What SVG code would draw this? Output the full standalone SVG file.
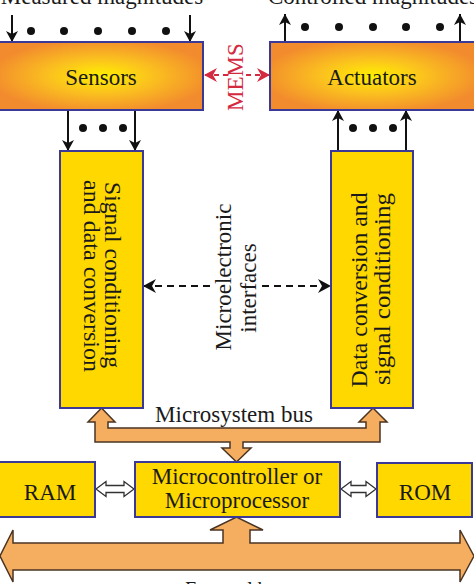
<svg xmlns="http://www.w3.org/2000/svg" width="474" height="584" viewBox="0 0 474 584">
<defs>
<radialGradient id="warm" cx="50%" cy="50%" r="55%">
<stop offset="0" stop-color="#FFF000"/>
<stop offset="0.45" stop-color="#FBC21E"/>
<stop offset="1" stop-color="#F28A2E"/>
</radialGradient>
<marker id="ah" markerUnits="userSpaceOnUse" markerWidth="11" markerHeight="12" refX="11" refY="6" orient="auto">
<path d="M0,0 L11,6 L0,12 L3,6 Z" fill="#111"/>
</marker>
<marker id="bh" markerUnits="userSpaceOnUse" markerWidth="13" markerHeight="14" refX="13" refY="7" orient="auto">
<path d="M0,0 L13,7 L0,14 L4,7 Z" fill="#111"/>
</marker>
<marker id="rh" markerUnits="userSpaceOnUse" markerWidth="13" markerHeight="14" refX="13" refY="7" orient="auto">
<path d="M0,0 L13,7 L0,14 L4,7 Z" fill="#D42A40"/>
</marker>
</defs>
<style>
.t{font-family:"Liberation Serif","Times New Roman",serif;font-size:23px;fill:#1a1a1a}
.box{fill:#FFD800;stroke:#3A3A96;stroke-width:2}
.gbox{fill:url(#warm);stroke:#3A3A96;stroke-width:2}
.bus{fill:#F5AE60;stroke:#4a3423;stroke-width:1.5;stroke-linejoin:miter}
.ar{stroke:#111;stroke-width:2;fill:none;marker-end:url(#ah)}
.dash{stroke:#111;stroke-width:2;fill:none;stroke-dasharray:7,5;marker-end:url(#bh)}
.rdash{stroke:#D42A40;stroke-width:1.8;fill:none;stroke-dasharray:5,4;marker-end:url(#rh)}
.dot{fill:#111}
.wa{fill:#fff;stroke:#333;stroke-width:1.3}
</style>

<text class="t" x="102" y="4" text-anchor="middle">Measured magnitudes</text>
<text class="t" x="373" y="4" text-anchor="middle">Controlled magnitudes</text>

<g id="connectors">
<line class="ar" x1="12" y1="15" x2="12" y2="42"/>
<line class="ar" x1="190" y1="15" x2="190" y2="42"/>
<g class="dot"><circle cx="31" cy="31" r="4"/><circle cx="64" cy="31" r="4"/><circle cx="98" cy="31" r="4"/><circle cx="132" cy="31" r="4"/><circle cx="166" cy="31" r="4"/></g>
<line class="ar" x1="285" y1="42" x2="285" y2="14"/>
<line class="ar" x1="460" y1="42" x2="460" y2="14"/>
<g class="dot"><circle cx="305" cy="27" r="4"/><circle cx="339" cy="27" r="4"/><circle cx="373" cy="27" r="4"/><circle cx="406" cy="27" r="4"/><circle cx="440" cy="27" r="4"/></g>
<line class="ar" x1="68" y1="110" x2="68" y2="151"/>
<line class="ar" x1="135" y1="110" x2="135" y2="151"/>
<g class="dot"><circle cx="83" cy="128" r="4"/><circle cx="103" cy="128" r="4"/><circle cx="123" cy="128" r="4"/></g>
<line class="ar" x1="338" y1="151" x2="338" y2="110"/>
<line class="ar" x1="406" y1="151" x2="406" y2="110"/>
<g class="dot"><circle cx="353" cy="128" r="4"/><circle cx="373" cy="128" r="4"/><circle cx="393" cy="128" r="4"/></g>
<line class="rdash" x1="228" y1="75" x2="204" y2="75"/>
<line class="rdash" x1="246" y1="75" x2="270" y2="75"/>
<line class="dash" x1="210" y1="286" x2="143" y2="286"/>
<line class="dash" x1="262" y1="286" x2="331" y2="286"/>
<path class="bus" d="M101.5,408 L115,422 L108,422 L108,428 L366,428 L366,422 L359,422 L373,408 L387,422 L380,422 L380,442 L243,442 L243,448 L251,448 L236.5,462 L222,448 L230,448 L230,442 L95,442 L95,422 L88,422 Z"/>
<path class="bus" d="M0,556 L13,530 L13,543 L223,543 L223,530 L210,530 L236.5,517 L263,530 L250,530 L250,543 L460,543 L460,530 L474,556 L460,582 L460,570 L13,570 L13,582 Z"/>
<path class="wa" d="M96,489 L106,481.5 L106,485.5 L124,485.5 L124,481.5 L134,489 L124,496.5 L124,492.5 L106,492.5 L106,496.5 Z"/>
<path class="wa" d="M341,489 L351,481.5 L351,485.5 L366,485.5 L366,481.5 L376,489 L366,496.5 L366,492.5 L351,492.5 L351,496.5 Z"/>
</g>

<text class="t" x="234" y="422" text-anchor="middle">Microsystem bus</text>
<text class="t" x="185" y="596" style="font-size:20px">External bus</text>

<g id="sensors">
<rect class="gbox" x="-1" y="42" width="204" height="68"/>
<text class="t" x="101" y="85" text-anchor="middle">Sensors</text>
</g>
<g id="actuators">
<rect class="gbox" x="270" y="42" width="206" height="68"/>
<text class="t" x="372" y="85" text-anchor="middle">Actuators</text>
</g>
<g id="mems">
<text class="t" transform="translate(243,77) rotate(-90)" text-anchor="middle" style="fill:#D42A40">MEMS</text>
</g>
<g id="signal-conditioning">
<rect class="box" x="60" y="151" width="83" height="257"/>
<text class="t" transform="translate(105,275) rotate(90)" text-anchor="middle" textLength="186" lengthAdjust="spacingAndGlyphs">Signal conditioning</text>
<text class="t" transform="translate(84,276) rotate(90)" text-anchor="middle" textLength="192" lengthAdjust="spacingAndGlyphs">and data conversion</text>
</g>
<g id="data-conversion">
<rect class="box" x="331" y="151" width="82" height="257"/>
<text class="t" transform="translate(367,290) rotate(-90)" text-anchor="middle" textLength="195" lengthAdjust="spacingAndGlyphs">Data conversion and</text>
<text class="t" transform="translate(390,289) rotate(-90)" text-anchor="middle" textLength="192" lengthAdjust="spacingAndGlyphs">signal conditioning</text>
</g>
<g id="interfaces">
<text class="t" transform="translate(231,277) rotate(-90)" text-anchor="middle">Microelectronic</text>
<text class="t" transform="translate(256,288) rotate(-90)" text-anchor="middle">interfaces</text>
</g>
<g id="ram">
<rect class="box" x="-1" y="462" width="96" height="55"/>
<text class="t" x="50" y="500" text-anchor="middle">RAM</text>
</g>
<g id="microcontroller">
<rect class="box" x="135" y="462" width="205" height="55"/>
<text class="t" x="237" y="484" text-anchor="middle">Microcontroller or</text>
<text class="t" x="237" y="508" text-anchor="middle">Microprocessor</text>
</g>
<g id="rom">
<rect class="box" x="377" y="463" width="95" height="54"/>
<text class="t" x="425" y="500" text-anchor="middle">ROM</text>
</g>
</svg>
